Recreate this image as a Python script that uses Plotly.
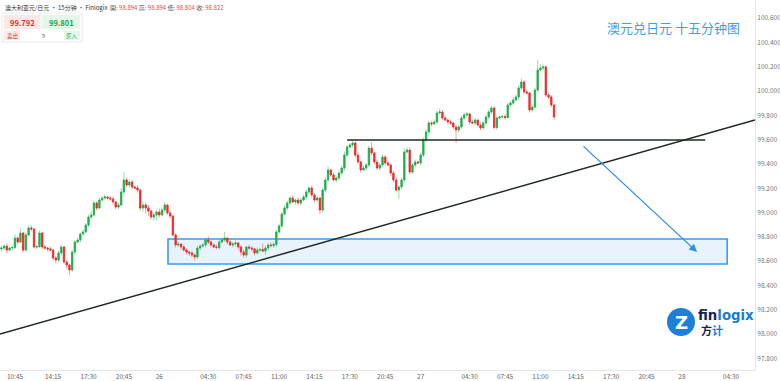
import plotly.graph_objects as go
import pandas as pd

# ---------------- data ----------------
start_time = "2023-09-25 09:30"
first_open = 98.700
closes = [
    98.708, 98.724, 98.691, 98.708, 98.712, 98.790, 98.757, 98.831, 98.691, 98.815,
    98.873, 98.864, 98.716, 98.720, 98.831, 98.716, 98.708, 98.700, 98.691, 98.626,
    98.609, 98.667, 98.716, 98.593, 98.568, 98.527, 98.675, 98.757, 98.774, 98.823,
    98.840, 98.897, 98.963, 98.980, 99.078, 99.037, 99.103, 99.119, 99.128, 99.119,
    99.112, 99.087, 99.045, 99.062, 99.169, 99.268, 99.226, 99.251, 99.210, 99.202,
    99.185, 99.037, 99.062, 99.037, 99.012, 98.963, 98.980, 99.004, 98.980, 99.021,
    99.062, 98.996, 98.971, 98.815, 98.733, 98.740, 98.716, 98.691, 98.675, 98.667,
    98.650, 98.634, 98.708, 98.724, 98.733, 98.774, 98.757, 98.733, 98.716, 98.712,
    98.757, 98.774, 98.790, 98.757, 98.733, 98.741, 98.749, 98.716, 98.675, 98.650,
    98.716, 98.708, 98.700, 98.667, 98.691, 98.695, 98.683, 98.708, 98.733, 98.728,
    98.738, 98.840, 98.889, 98.988, 99.037, 99.078, 99.119, 99.087, 99.103, 99.078,
    99.103, 99.128, 99.169, 99.202, 99.144, 99.103, 99.119, 99.021, 99.185, 99.268,
    99.350, 99.309, 99.268, 99.284, 99.325, 99.366, 99.473, 99.539, 99.556, 99.572,
    99.473, 99.416, 99.350, 99.366, 99.391, 99.530, 99.490, 99.416, 99.366, 99.391,
    99.457, 99.408, 99.391, 99.325, 99.268, 99.185, 99.210, 99.268, 99.498, 99.514,
    99.333, 99.391, 99.416, 99.408, 99.473, 99.597, 99.663, 99.737, 99.730, 99.745,
    99.819, 99.827, 99.778, 99.761, 99.745, 99.737, 99.704, 99.679, 99.704, 99.778,
    99.803, 99.811, 99.745, 99.737, 99.761, 99.720, 99.696, 99.737, 99.786, 99.827,
    99.860, 99.700, 99.778, 99.786, 99.790, 99.782, 99.885, 99.901, 99.926, 99.951,
    100.025, 100.074, 99.992, 99.984, 99.844, 99.868, 100.008, 100.173, 100.189, 100.198,
    99.967, 99.951, 99.885, 99.786,
]
upper_wicks = [
    .020, .015, .020, .010, .020, .030, .015, .035, .010, .020,
    .025, .020, .010, .015, .020, .010, .015, .010, .020, .010,
    .015, .020, .020, .010, .015, .010, .020, .015, .020, .010,
    .020, .015, .020, .030, .020, .015, .020, .015, .020, .010,
    .015, .020, .010, .020, .030, .065, .020, .020, .015, .010,
    .020, .010, .030, .020, .025, .010, .020, .015, .030, .020,
    .025, .010, .020, .010, .015, .020, .010, .020, .015, .010,
    .020, .010, .020, .015, .020, .020, .030, .015, .010, .020,
    .015, .020, .050, .010, .020, .015, .020, .010, .015, .020,
    .010, .020, .015, .010, .020, .015, .050, .020, .015, .020,
    .015, .020, .020, .015, .020, .020, .015, .020, .010, .020,
    .015, .020, .020, .010, .020, .015, .020, .010, .020, .020,
    .030, .010, .020, .015, .020, .020, .030, .020, .015, .020,
    .015, .020, .010, .020, .015, .020, .050, .010, .020, .015,
    .020, .015, .020, .010, .015, .020, .015, .020, .030, .020,
    .020, .015, .020, .010, .020, .020, .020, .020, .015, .020,
    .020, .030, .015, .020, .015, .020, .010, .020, .015, .020,
    .020, .015, .010, .020, .015, .010, .020, .015, .020, .020,
    .020, .015, .020, .010, .015, .020, .020, .015, .020, .020,
    .020, .030, .015, .020, .010, .020, .020, .080, .030, .020,
    .015, .020, .015, .010,
]
lower_wicks = [
    .020, .015, .025, .010, .020, .015, .020, .010, .020, .015,
    .010, .020, .015, .020, .010, .020, .015, .020, .010, .020,
    .030, .015, .020, .020, .030, .040, .015, .020, .010, .020,
    .015, .010, .020, .015, .010, .020, .010, .015, .010, .020,
    .015, .020, .020, .015, .010, .020, .015, .020, .020, .010,
    .020, .020, .030, .045, .040, .020, .030, .045, .020, .015,
    .020, .015, .020, .010, .020, .015, .020, .010, .020, .025,
    .020, .030, .015, .020, .010, .020, .015, .020, .010, .015,
    .020, .010, .015, .020, .010, .020, .015, .020, .030, .020,
    .020, .015, .020, .020, .015, .020, .010, .030, .020, .015,
    .020, .020, .015, .020, .010, .020, .015, .010, .020, .015,
    .020, .010, .020, .015, .020, .020, .010, .035, .020, .015,
    .020, .015, .010, .020, .015, .020, .020, .015, .010, .020,
    .020, .015, .020, .010, .020, .015, .020, .020, .015, .020,
    .015, .020, .010, .020, .020, .020, .070, .020, .015, .010,
    .020, .015, .020, .010, .020, .015, .020, .030, .020, .015,
    .020, .015, .020, .010, .020, .015, .020, .107, .020, .015,
    .020, .015, .020, .010, .020, .015, .020, .010, .015, .020,
    .020, .015, .020, .010, .015, .020, .010, .015, .020, .010,
    .020, .015, .020, .010, .020, .020, .015, .020, .015, .020,
    .020, .015, .020, .025,
]

tick_times = [
    "2023-09-25 10:45", "2023-09-25 14:15", "2023-09-25 17:30", "2023-09-25 20:45",
    "2023-09-26 00:00", "2023-09-26 04:30", "2023-09-26 07:45", "2023-09-26 11:00",
    "2023-09-26 14:15", "2023-09-26 17:30", "2023-09-26 20:45", "2023-09-27 00:00",
    "2023-09-27 04:30", "2023-09-27 07:45", "2023-09-27 11:00", "2023-09-27 14:15",
    "2023-09-27 17:30", "2023-09-27 20:45", "2023-09-28 00:00", "2023-09-28 04:30",
]
tick_labels = ["10:45", "14:15", "17:30", "20:45", "26", "04:30", "07:45", "11:00",
               "14:15", "17:30", "20:45", "27", "04:30", "07:45", "11:00", "14:15",
               "17:30", "20:45", "28", "04:30"]
price_ticks = [97.8, 98.0, 98.2, 98.4, 98.6, 98.8, 99.0, 99.2, 99.4, 99.6,
               99.8, 100.0, 100.2, 100.4, 100.6]

x_range = ["2023-09-25 09:22:20", "2023-09-28 06:42:20"]
y_range = [97.704, 100.749]

trend_start = ("2023-09-25 09:22", 98.000)
trend_end = ("2023-09-28 06:42", 99.761)
resist_level = 99.597
resist_span = ("2023-09-26 17:15", "2023-09-28 02:08")
zone_low, zone_high = 98.576, 98.782
zone_span = ("2023-09-26 00:48", "2023-09-28 04:09")
arrow_from = ("2023-09-27 14:49", 99.556)
arrow_to = ("2023-09-28 01:23", 98.675)

header_name = "澳大利亚元/日元 · 15分钟 · Finlogix"
header_ohlc = [("開", "98.894"), ("高", "98.894"), ("低", "98.804"), ("收", "98.822")]
bid_price, ask_price, lot_size = "99.792", "99.801", "9"
title_text = "澳元兑日元 十五分钟图"

# ---------------- build ----------------
times = pd.date_range(start=start_time, periods=len(closes), freq="15min")
opens = [first_open] + closes[:-1]
highs = [max(o, c) + u for o, c, u in zip(opens, closes, upper_wicks)]
lows = [min(o, c) - d for o, c, d in zip(opens, closes, lower_wicks)]
body_hi = [max(o, c) for o, c in zip(opens, closes)]
body_lo = [min(o, c) for o, c in zip(opens, closes)]

GREEN = "#1fae4c"
RED = "#ee2b2b"
FONT = "Noto Sans CJK SC, Noto Sans, sans-serif"

fig = go.Figure()
fig.add_trace(go.Candlestick(
    x=times, open=opens, high=highs, low=lows, close=closes,
    increasing=dict(line=dict(color="rgba(31,174,76,0.45)", width=1), fillcolor="rgba(31,174,76,0.45)"),
    decreasing=dict(line=dict(color="rgba(238,43,43,0.45)", width=1), fillcolor="rgba(238,43,43,0.45)"),
    showlegend=False, hoverinfo="skip"))
fig.add_trace(go.Candlestick(
    x=times, open=opens, high=body_hi, low=body_lo, close=closes,
    increasing=dict(line=dict(color=GREEN, width=0.6), fillcolor=GREEN),
    decreasing=dict(line=dict(color=RED, width=0.6), fillcolor=RED),
    showlegend=False))

W, H = 755.0, 370.0
def px(x):
    return x / W
def py(y):
    return 1 - y / H

shapes = [
    dict(type="rect", xref="x", yref="y", x0=zone_span[0], x1=zone_span[1],
         y0=zone_low, y1=zone_high, fillcolor="rgba(214,234,252,0.55)",
         line=dict(color="#3a9cf2", width=1.6), layer="below"),
    dict(type="line", xref="x", yref="y", x0=trend_start[0], y0=trend_start[1],
         x1=trend_end[0], y1=trend_end[1], line=dict(color="#1f2a22", width=1.5)),
    dict(type="line", xref="x", yref="y", x0=resist_span[0], x1=resist_span[1],
         y0=resist_level, y1=resist_level, line=dict(color="#1f2a22", width=1.5)),
    # trading widget
    dict(type="rect", xref="paper", yref="paper", x0=px(2), x1=px(82), y0=py(42), y1=py(13),
         fillcolor="white", line=dict(color="rgba(0,0,0,0.08)", width=1)),
    dict(type="rect", xref="paper", yref="paper", x0=px(4), x1=px(40.5), y0=py(29), y1=py(15),
         fillcolor="#fde8e8", line=dict(width=0)),
    dict(type="rect", xref="paper", yref="paper", x0=px(41.5), x1=px(80), y0=py(29), y1=py(15),
         fillcolor="#e5f7ea", line=dict(width=0)),
    dict(type="rect", xref="paper", yref="paper", x0=px(4), x1=px(20), y0=py(40), y1=py(30.5),
         fillcolor="#fde8e8", line=dict(width=0)),
    dict(type="rect", xref="paper", yref="paper", x0=px(64), x1=px(80), y0=py(40), y1=py(30.5),
         fillcolor="#e5f7ea", line=dict(width=0)),
    # logo circle
    dict(type="circle", xref="paper", yref="paper", x0=px(667), x1=px(695), y0=py(336), y1=py(308),
         fillcolor="#1c80d8", line=dict(width=0)),
]

ohlc_html = " ".join(
    f"<span style='color:#555'>{k}:</span> <span style='color:#e04a4a'>{v}</span>" for k, v in header_ohlc)

def label(x, y, text, size, color, family=FONT, anchor="center"):
    return dict(xref="paper", yref="paper", x=px(x), y=py(y), xanchor=anchor, yanchor="middle",
                text=text, showarrow=False, font=dict(size=size, color=color, family=family))

annotations = [
    dict(xref="x", yref="y", x=arrow_to[0], y=arrow_to[1], axref="x", ayref="y",
         ax=arrow_from[0], ay=arrow_from[1], showarrow=True, arrowhead=2, arrowsize=1.2,
         arrowwidth=1.3, arrowcolor="#2f8fe6", text=""),
    label(3, 7, header_name + "  " + ohlc_html, 6.0, "#333", anchor="left"),
    label(22.5, 22, "<b>" + bid_price + "</b>", 7.5, "#e02f2f"),
    label(61, 22, "<b>" + ask_price + "</b>", 7.5, "#18a648"),
    label(12, 35.5, "卖出", 5.5, "#e02f2f"),
    label(43, 35.5, lot_size, 5.5, "#666"),
    label(72, 35.5, "买入", 5.5, "#18a648"),
    label(673, 27, title_text, 13, "#3da1ef"),
    label(681, 322.5, "<b>Z</b>", 18, "white", family="DejaVu Sans"),
    label(696, 315, "<b><span style='color:#0e2752'>fin</span><span style='color:#1a7bd2'>logix</span></b>",
          13.3, "#0e2752", family="DejaVu Sans", anchor="left"),
    label(699, 330, "<b><span style='color:#0e2752'>方</span><span style='color:#1a7bd2'>计</span></b>",
          11, "#0e2752", anchor="left"),
]

fig.update_layout(
    width=780, height=381,
    margin=dict(l=0, r=25, t=0, b=11),
    paper_bgcolor="white", plot_bgcolor="white",
    shapes=shapes, annotations=annotations,
    showlegend=False,
    font=dict(family=FONT),
    xaxis=dict(type="date", range=x_range, rangeslider=dict(visible=False),
               tickvals=tick_times, ticktext=tick_labels, showgrid=False, zeroline=False,
               showline=True, linecolor="#e6e6e6", linewidth=1, ticks="",
               tickfont=dict(size=6.5, color="#666", family=FONT)),
    yaxis=dict(side="right", range=y_range, tickvals=price_ticks, tickformat=".3f",
               showgrid=False, zeroline=False, showline=True, linecolor="#e6e6e6",
               linewidth=1, ticks="", tickfont=dict(size=6.5, color="#777", family=FONT)),
)

fig.write_html("out.html", config={"displayModeBar": False},
               post_script="document.body.style.margin='0';")
